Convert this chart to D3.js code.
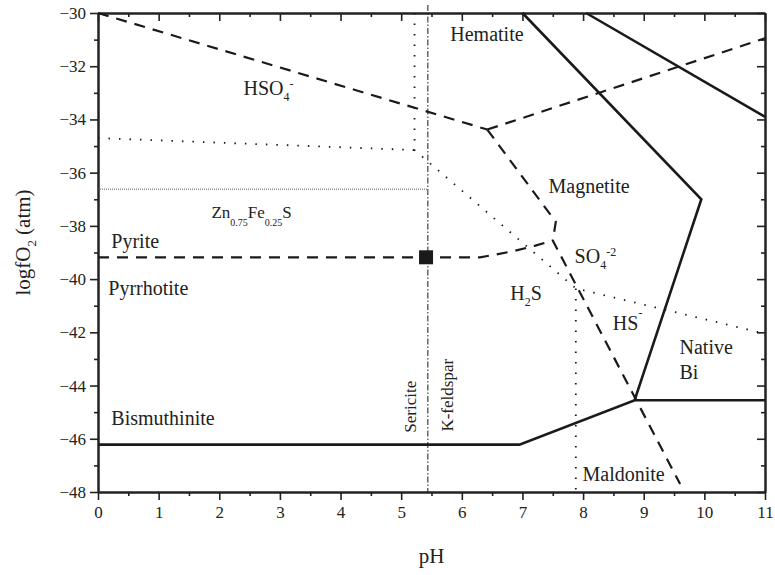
<!DOCTYPE html>
<html>
<head>
<meta charset="utf-8">
<script src="https://cdn.jsdelivr.net/npm/d3@7"></script>
<style>
body{margin:0;background:#fff;}
</style>
</head>
<body>
<div id="diagram"></div>
<script>
/* logfO2 - pH stability diagram, redrawn */
var xMajor=d3.range(0,12,1),
xMinor=d3.range(0.5,11,1),
yMajor=d3.range(-48,-29,2),
yMinor=d3.range(-47,-30,2);

// phase boundaries, [pH, logfO2]
var hematiteMagnetite=[[7.0,-30],[9.95,-37.0],[8.85,-44.55]];
var hematiteUpper=[[8.05,-30],[11,-33.9]];
var bismuthinite=[[0,-46.22],[6.95,-46.22],[8.85,-44.55],[11,-44.55]];
// sulfur species (dashed)
var hso4Line=[[0,-30],[6.42,-34.38]];
var so4Upper=[[6.42,-34.38],[11,-30.95]];
var so4Lower=[[6.42,-34.38],[7.55,-37.85],[7.5,-38.55],[9.6,-47.7]];
var pyriteLine=[[0,-39.18],[6.3,-39.18],[6.5,-39.1],[6.85,-38.95],[7.2,-38.75],[7.5,-38.55]];
// dotted boundaries
var dotA=[[0,-34.7],[5.22,-35.15]];
var dotB=[[5.22,-30],[5.22,-35.15],[7.88,-40.35],[11,-42.05]];
var dotC=[[7.88,-40.35],[7.88,-48]];
var sphalerite=[[0,-36.62],[5.44,-36.62]];
var feldspar=[[5.44,-29.7],[5.44,-48]];
var sample=[[5.41,-39.18]];

// labels: text parts, x, y (baseline start)
var labels=[
{t:[["Hematite"]],x:5.81,y:-31.04},
{t:[["HSO"],["4","sub"],["-","sup"]],x:2.4,y:-33.07},
{t:[["Zn"],["0.75","sub"],["Fe"],["0.25","sub"],["S"]],x:1.87,y:-37.7,small:true},
{t:[["Pyrite"]],x:0.22,y:-38.82},
{t:[["Pyrrhotite"]],x:0.17,y:-40.59},
{t:[["Bismuthinite"]],x:0.22,y:-45.5},
{t:[["Magnetite"]],x:7.43,y:-36.75},
{t:[["SO"],["4","sub"],["-2","sup"]],x:7.86,y:-39.38},
{t:[["H"],["2","sub"],["S"]],x:6.8,y:-40.8},
{t:[["HS"],["-","sup"]],x:8.49,y:-41.9},
{t:[["Native"]],x:9.59,y:-42.8},
{t:[["Bi"]],x:9.59,y:-43.75},
{t:[["Maldonite"]],x:7.99,y:-47.6}
];
var vlabels=[{t:"Sericite",x:5.25,y:-45.77},{t:"K-feldspar",x:5.85,y:-45.73}];

var FONT="'Liberation Serif','Times New Roman',Times,serif";
var margin={top:13,right:10,bottom:83,left:98},
w=775-margin.left-margin.right,
h=575-margin.top-margin.bottom;

var svg=d3.select("#diagram").append("svg")
.attr("width",775).attr("height",575)
.style("font-family",FONT)
.append("g")
.attr("transform",`translate(${margin.left},${margin.top})`);

var x=d3.scaleLinear().domain([0,11]).range([0,w]);
var y=d3.scaleLinear().domain([-48,-30]).range([h,0]);

function styleAxis(g){
g.attr("font-family",FONT);
g.selectAll("path").attr("stroke","#222").attr("stroke-width",2);
g.selectAll("line").attr("stroke","#222").attr("stroke-width",1.6);
g.selectAll("text").attr("font-size","17px").attr("fill","#222");
}
// bottom
svg.append("g").attr("transform","translate(0,"+h+")")
.call(d3.axisBottom(x).tickValues(xMinor).tickSize(4).tickFormat("").tickSizeOuter(0)).call(styleAxis);
svg.append("g").attr("transform","translate(0,"+h+")")
.call(d3.axisBottom(x).tickValues(xMajor).tickSize(8).tickPadding(6).tickSizeOuter(0)).call(styleAxis);
// top
svg.append("g")
.call(d3.axisTop(x).tickValues(xMinor).tickSize(-4).tickFormat("").tickSizeOuter(0)).call(styleAxis);
svg.append("g")
.call(d3.axisTop(x).tickValues(xMajor).tickSize(-8).tickFormat("").tickSizeOuter(0)).call(styleAxis);
// left
svg.append("g")
.call(d3.axisLeft(y).tickValues(yMinor).tickSize(4).tickFormat("").tickSizeOuter(0)).call(styleAxis);
svg.append("g")
.call(d3.axisLeft(y).tickValues(yMajor).tickSize(8).tickPadding(4).tickSizeOuter(0)).call(styleAxis);
// right
svg.append("g").attr("transform","translate("+w+",0)")
.call(d3.axisRight(y).tickValues(yMinor).tickSize(-4).tickFormat("").tickSizeOuter(0)).call(styleAxis);
svg.append("g").attr("transform","translate("+w+",0)")
.call(d3.axisRight(y).tickValues(yMajor).tickSize(-8).tickFormat("").tickSizeOuter(0)).call(styleAxis);

var line=d3.line().x(function(d){return x(d[0]);}).y(function(d){return y(d[1]);});

function draw(data,width,dash,color){
svg.append("path").datum(data)
.attr("d",line).attr("fill","none")
.attr("stroke",color||"#1a1a1a").attr("stroke-width",width)
.attr("stroke-dasharray",dash||null);
}
// dotted and fine lines
draw(sphalerite,1,"1,1","#555");
draw(dotA,1.8,"1.5,9");
draw(dotB,1.8,"1.5,9");
draw(dotC,1.8,"1.5,9");
draw(feldspar,1,"6,2,1.5,2");
// dashed
draw(hso4Line,2.2,"11,8");
draw(so4Upper,2.2,"11,8");
draw(so4Lower,2.2,"11,8");
draw(pyriteLine,2.2,"11,8");
// solid
draw(hematiteMagnetite,2.6);
draw(hematiteUpper,2.6);
draw(bismuthinite,2.6);

svg.selectAll("rect.sample").data(sample).enter()
.append("rect").attr("class","sample")
.attr("x",function(d){return x(d[0])-7;})
.attr("y",function(d){return y(d[1])-7;})
.attr("width",14).attr("height",14).attr("fill","#1a1a1a");

// annotations
labels.forEach(function(l){
var base=l.small?17:20;
var t=svg.append("text").attr("x",x(l.x)).attr("y",y(l.y))
.attr("font-family",FONT).attr("fill","#222").attr("font-size",base+"px");
l.t.forEach(function(p,i){
var s=t.append("tspan").text(p[0]);
if(p[1]==="sub"){
s.attr("font-size",(l.small?10:12)+"px").attr("dy",l.small?8:6);
}else if(p[1]==="sup"){
s.attr("font-size","12px").attr("dy",-13);
}
// back to baseline after a subscript
var prev=l.t[i-1];
if(!p[1]&&prev&&prev[1]==="sub")s.attr("dy",l.small?-8:-6);
});
});
vlabels.forEach(function(l){
svg.append("text")
.attr("transform","translate("+x(l.x)+","+y(l.y)+")rotate(-90)")
.attr("font-family",FONT).attr("fill","#222")
.attr("font-size","17px").text(l.t);
});

// axis titles
svg.append("text").attr("x",w/2).attr("y",h+71)
.attr("font-family",FONT).attr("fill","#222")
.attr("text-anchor","middle").attr("font-size","21px").text("pH");
var yt=svg.append("text")
.attr("transform","translate("+(-68)+","+(h/2-10)+")rotate(-90)")
.attr("font-family",FONT).attr("fill","#222")
.attr("text-anchor","middle").attr("font-size","21px");
yt.append("tspan").text("logfO");
yt.append("tspan").text("2").attr("font-size","13px").attr("dy",6);
yt.append("tspan").text(" (atm)").attr("dy",-6);
</script>
</body>
</html>
